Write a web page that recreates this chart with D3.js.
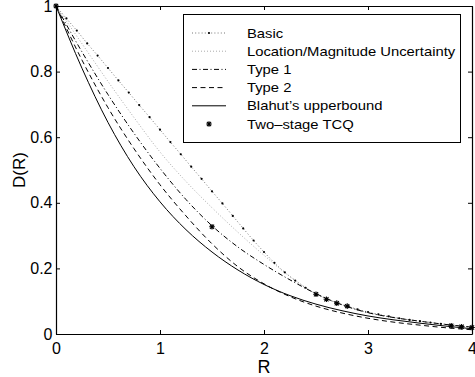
<!DOCTYPE html>
<html>
<head>
<meta charset="utf-8">
<script src="https://cdn.jsdelivr.net/npm/d3@7"></script>
<style>
  body { margin: 0; background: #fff; }
  svg { display: block; font-family: "Liberation Sans", Arial, sans-serif; }
</style>
</head>
<body>
<div id="chart"></div>
<script>
// rate grid for the smooth curves
const rates = [0, 0.25, 0.5, 0.75, 1, 1.25, 1.5, 1.75, 2, 2.25, 2.5, 2.75, 3, 3.25, 3.5, 3.75, 4];
const locMag = [1, 0.885, 0.77, 0.66, 0.555, 0.465, 0.385, 0.31, 0.24, 0.175, 0.123, 0.089, 0.065, 0.05, 0.039, 0.029, 0.021];
const type1 = [1, 0.86, 0.73, 0.612, 0.505, 0.41, 0.33, 0.265, 0.212, 0.165, 0.123, 0.089, 0.065, 0.05, 0.039, 0.029, 0.021];
const type2 = [1, 0.835, 0.69, 0.565, 0.455, 0.36, 0.275, 0.205, 0.153, 0.114, 0.085, 0.064, 0.048, 0.036, 0.027, 0.019, 0.013];
const blahut = [1, 0.81, 0.645, 0.51, 0.403, 0.318, 0.25, 0.195, 0.151, 0.117, 0.091, 0.071, 0.055, 0.043, 0.033, 0.024, 0.016];

// basic scheme, one marker every 0.1
const basicR = [0, 0.1, 0.2, 0.3, 0.4, 0.5, 0.6, 0.7, 0.8, 0.9, 1, 1.1, 1.2, 1.3, 1.4, 1.5, 1.6, 1.7, 1.8, 1.9, 2,
  2.1, 2.2, 2.3, 2.4, 2.5, 2.6, 2.7, 2.8, 2.9, 3, 3.1, 3.2, 3.3, 3.4, 3.5, 3.6, 3.7, 3.8, 3.9, 4];
const basicD = [1, 0.962, 0.925, 0.886, 0.849, 0.811, 0.773, 0.736, 0.698, 0.661, 0.623, 0.585, 0.548, 0.51, 0.473,
  0.435, 0.398, 0.36, 0.322, 0.285, 0.25, 0.217, 0.188, 0.163, 0.141, 0.122, 0.107, 0.095, 0.085, 0.075, 0.067,
  0.06, 0.054, 0.048, 0.043, 0.039, 0.035, 0.031, 0.028, 0.024, 0.021];

// two-stage TCQ points
const tcqR = [0, 1.5, 2.5, 2.6, 2.7, 2.8, 3.8, 3.9, 4];
const tcqD = [1, 0.327, 0.121, 0.106, 0.094, 0.085, 0.025, 0.022, 0.02];

const xTicks = [0, 1, 2, 3, 4];
const yTicks = [0, 0.2, 0.4, 0.6, 0.8, 1];
const legendNames = ["Basic", "Location/Magnitude Uncertainty", "Type 1", "Type 2", "Blahut\u2019s upperbound", "Two\u2013stage TCQ"];

const width = 475;
const height = 377;
const margin = { t: 6, r: 3, b: 43, l: 56 };

const x = d3.scaleLinear().domain([0, 4]).range([margin.l, width - margin.r]);
const y = d3.scaleLinear().domain([0, 1]).range([height - margin.b, margin.t]);

const svg = d3.select("#chart").append("svg").attr("width", width).attr("height", height);

const line = d3.line().x((d) => x(d[0])).y((d) => y(d[1])).curve(d3.curveMonotoneX);
const pairs = (xs, ys) => xs.map((v, i) => [v, ys[i]]);

const styles = [
  { color: "#777", dash: "1,2.2", width: 1 },
  { color: "#aaa", dash: "1,2", width: 1 },
  { color: "#000", dash: "5,2.5,1,2.5", width: 1 },
  { color: "#000", dash: "5,3.5", width: 1 },
  { color: "#000", dash: null, width: 1 },
];

const plot = svg.append("g");
const curves = [pairs(basicR, basicD), pairs(rates, locMag), pairs(rates, type1), pairs(rates, type2), pairs(rates, blahut)];
curves.forEach((c, i) => {
  plot.append("path")
    .attr("d", line(c))
    .attr("fill", "none")
    .attr("stroke", styles[i].color)
    .attr("stroke-width", styles[i].width)
    .attr("stroke-dasharray", styles[i].dash);
});

plot.selectAll("circle.basic")
  .data(pairs(basicR, basicD))
  .join("circle")
  .attr("class", "basic")
  .attr("cx", (d) => x(d[0]))
  .attr("cy", (d) => y(d[1]))
  .attr("r", 1.1)
  .attr("fill", "#000");

function star(g, cx, cy) {
  const s = 2.8;
  const p = `M${cx - s},${cy}L${cx + s},${cy}M${cx},${cy - s}L${cx},${cy + s}` +
    `M${cx - s * 0.75},${cy - s * 0.75}L${cx + s * 0.75},${cy + s * 0.75}` +
    `M${cx - s * 0.75},${cy + s * 0.75}L${cx + s * 0.75},${cy - s * 0.75}`;
  g.append("path").attr("d", p).attr("stroke", "#000").attr("stroke-width", 1.1).attr("fill", "none");
}
pairs(tcqR, tcqD).forEach((d) => star(plot, x(d[0]), y(d[1])));

// axes, ticks inside on all four sides
const fmt = d3.format("~g");
svg.append("g").attr("transform", `translate(0,${y(0)})`)
  .call(d3.axisBottom(x).tickValues(xTicks).tickFormat(fmt).tickSizeInner(-4).tickSizeOuter(0).tickPadding(9));
svg.append("g").attr("transform", `translate(${x(0)},0)`)
  .call(d3.axisLeft(y).tickValues(yTicks).tickFormat(fmt).tickSizeInner(-4).tickSizeOuter(0).tickPadding(3.5));
svg.append("g").attr("transform", `translate(0,${y(1)})`)
  .call(d3.axisTop(x).tickValues(xTicks).tickFormat("").tickSizeInner(-4).tickSizeOuter(0));
svg.append("g").attr("transform", `translate(${x(4)},0)`)
  .call(d3.axisRight(y).tickValues(yTicks).tickFormat("").tickSizeInner(-4).tickSizeOuter(0));

svg.selectAll(".domain").attr("stroke", "#000").attr("stroke-width", 1.2);
svg.selectAll(".tick line").attr("stroke", "#000");
svg.selectAll(".tick text")
  .attr("fill", "#000")
  .style("font-family", "Liberation Sans, Arial, sans-serif")
  .style("font-size", "16px");

svg.append("text")
  .attr("x", x(2))
  .attr("y", 373)
  .attr("text-anchor", "middle")
  .style("font-size", "18px")
  .text("R");

svg.append("text")
  .attr("transform", `translate(25,${(y(0) + y(1)) / 2}) rotate(-90)`)
  .attr("text-anchor", "middle")
  .style("font-size", "17px")
  .text("D(R)");

// legend
const legend = svg.append("g");
legend.append("rect")
  .attr("x", 183.5).attr("y", 14.5)
  .attr("width", 277).attr("height", 128)
  .attr("fill", "#fff").attr("stroke", "#000").attr("stroke-width", 1);

const rowY = (i) => 33 + i * 18.2;
legendNames.forEach((name, i) => {
  const ly = rowY(i);
  if (i < 5) {
    legend.append("line")
      .attr("x1", 192).attr("x2", 226)
      .attr("y1", ly).attr("y2", ly)
      .attr("stroke", styles[i].color)
      .attr("stroke-width", styles[i].width)
      .attr("stroke-dasharray", styles[i].dash);
  }
  if (i === 0) {
    legend.append("circle").attr("cx", 209).attr("cy", ly).attr("r", 1.1).attr("fill", "#000");
  }
  if (i === 5) {
    star(legend, 209, ly);
  }
  legend.append("g")
    .attr("transform", `translate(247,${ly + 4.6}) scale(1.14,1)`)
    .append("text")
    .style("font-size", "13px")
    .text(name);
});
</script>
</body>
</html>
